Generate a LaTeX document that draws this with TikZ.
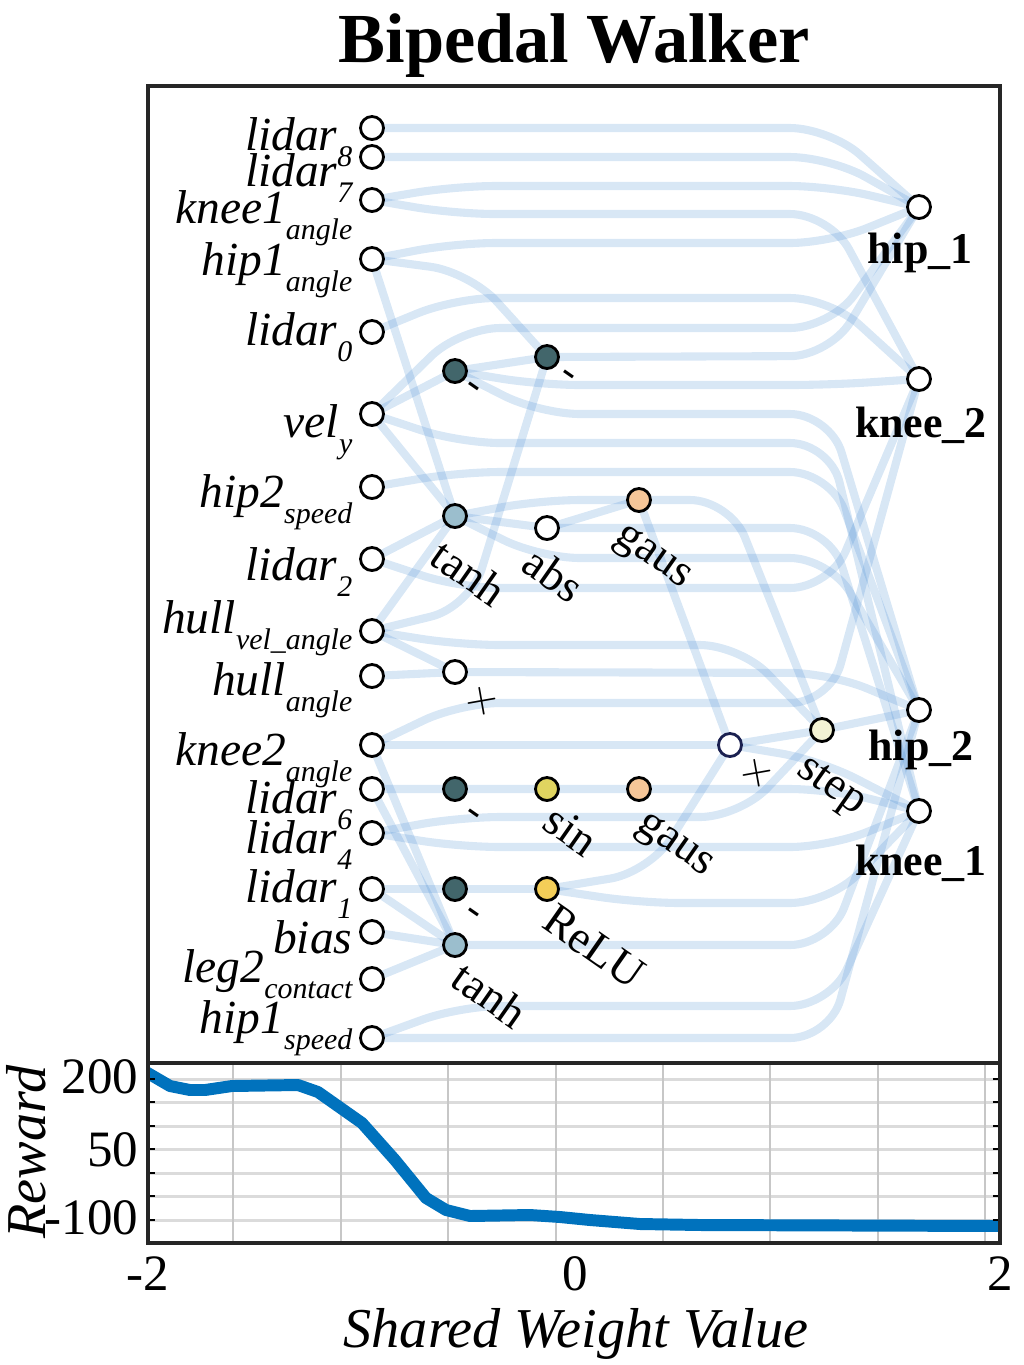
\documentclass[tikz,border=0pt]{standalone}
\usepackage{fontspec}
\setmainfont{Liberation Serif}
\usetikzlibrary{calc,backgrounds}

\definecolor{wireblue}{RGB}{70,140,210}
\definecolor{negteal}{RGB}{66,102,107}
\definecolor{tanhblue}{RGB}{155,190,205}
\definecolor{gausorange}{RGB}{246,198,152}
\definecolor{sinyellow}{RGB}{224,212,96}
\definecolor{reluyellow}{RGB}{244,206,88}
\definecolor{stepcream}{RGB}{243,243,212}
\definecolor{mulnavy}{RGB}{26,32,80}
\definecolor{plotblue}{RGB}{0,114,189}
\definecolor{framegray}{RGB}{38,38,38}

\tikzset{
  unit/.style={circle, draw=black, line width=0.8pt, fill=white, minimum size=0.23cm, inner sep=0pt},
  wire/.style={draw=wireblue, draw opacity=0.21, line width=2.3pt, rounded corners=0.4cm},
  inlab/.style={anchor=base east, inner sep=0pt, font=\fontsize{13.5}{16}\selectfont\itshape},
  outlab/.style={anchor=base, inner sep=0pt, font=\fontsize{12.5}{15}\selectfont\bfseries},
  fnlab/.style={anchor=north west, rotate=-35, inner sep=0pt, font=\fontsize{13}{15}\selectfont},
  oplab/.style={anchor=center, rotate=-35, inner sep=0pt, font=\fontsize{12}{14}\selectfont},
  frameline/.style={draw=framegray, line width=1.2pt},
  ticklab/.style={inner sep=0pt, font=\fontsize{14.5}{17}\selectfont},
}
\newcommand{\subtxt}[1]{\raisebox{-4.8pt}{\fontsize{8.5}{10}\selectfont #1}}

\begin{document}
\begin{tikzpicture}[x=0.01cm, y=-0.01cm]
\useasboundingbox (0,0) rectangle (1024,1365);

\node[anchor=base, inner sep=0pt, font=\fontsize{20}{24}\selectfont\bfseries] (title) at (574,62) {Bipedal Walker};

% inputs
\foreach \n/\y in {l8/128, l7/157, k1a/200, h1a/259, l0/332, vy/414, h2s/487, l2/559, hva/631, ha/676, k2a/745, l6/789, l4/833, l1/889, bias/932, lg2/979, h1s/1038}
  \node[unit] (\n) at (372,\y) {};
\foreach \n/\b/\w/\s in {l8/150/lidar/8, l7/186/lidar/7, k1a/223/knee1/angle, h1a/275/hip1/angle, l0/345/lidar/0, vy/437/vel/y, h2s/507/hip2/speed, l2/580/lidar/2, hva/633/hull/vel\_angle, ha/695/hull/angle, k2a/765/knee2/angle, l6/813/lidar/6, l4/853/lidar/4, l1/902/lidar/1, bias/953/bias/{}, lg2/982/leg2/contact, h1s/1033/hip1/speed}
  \node[inlab] (lab\n) at (353,\b) {\w\subtxt{\s}};

% hidden units
\node[unit, fill=negteal] (negA) at (455,371) {};
\node[unit, fill=negteal] (negB) at (547,357) {};
\node[unit, fill=tanhblue] (tanhA) at (455,516) {};
\node[unit] (absU) at (547,528) {};
\node[unit, fill=gausorange] (gausA) at (639,500) {};
\node[unit] (mulA) at (455,672) {};
\node[unit, draw=mulnavy] (mulB) at (730,745) {};
\node[unit, fill=stepcream] (stepU) at (822,730) {};
\node[unit, fill=negteal] (negC) at (455,789) {};
\node[unit, fill=sinyellow] (sinU) at (547,789) {};
\node[unit, fill=gausorange] (gausB) at (639,789) {};
\node[unit, fill=negteal] (negD) at (455,889) {};
\node[unit, fill=reluyellow] (relu) at (547,889) {};
\node[unit, fill=tanhblue] (tanhB) at (455,945) {};

\node[oplab] (labnegA) at (472,390) {-};
\node[oplab] (labnegB) at (567,378) {-};
\node[oplab] (labnegC) at (472,817) {-};
\node[oplab] (labnegD) at (472,916) {-};
\node[oplab] (labmulA) at (482,701) {$\times$};
\node[oplab] (labmulB) at (757,773) {$\times$};
\node[fnlab] (labtanhA) at (446,536) {tanh};
\node[fnlab] (lababs) at (538,543) {abs};
\node[fnlab] (labgausA) at (627,520) {gaus};
\node[fnlab] (labsin) at (558,802) {sin};
\node[fnlab] (labgausB) at (649,808) {gaus};
\node[fnlab] (labrelu) at (557,901) {ReLU};
\node[fnlab] (labstep) at (810,751) {step};
\node[fnlab] (labtanhB) at (467,958) {tanh};

% outputs
\node[unit] (hipA) at (919,207) {};
\node[unit] (kneeB) at (919,379) {};
\node[unit] (hipB) at (919,710) {};
\node[unit] (kneeA) at (919,811) {};
\node[outlab] (labhipA) at (920,263) {hip\_1};
\node[outlab] (labkneeB) at (921,437) {knee\_2};
\node[outlab] (labhipB) at (921,760) {hip\_2};
\node[outlab] (labkneeA) at (921,875) {knee\_1};

\begin{scope}[on background layer]
  % from inputs
  \draw[wire] (l8.center) -- (830,128) -- (hipA.center);
  \draw[wire] (l7.center) -- (830,157) -- (hipA.center);
  \draw[wire] (k1a.center) -- (455,186) -- (830,186) -- (hipA.center);
  \draw[wire] (k1a.center) -- (455,214) -- (830,214) -- (kneeB.center);
  \draw[wire] (h1a.center) -- (455,243) -- (830,243) -- (hipA.center);
  \draw[wire] (h1a.center) -- (470,272) -- (negB.center);
  \draw[wire] (h1a.center) -- (tanhA.center);
  \draw[wire] (l0.center) -- (455,298) -- (830,298) -- (kneeB.center);
  \draw[wire] (vy.center) -- (460,328) -- (830,328) -- (hipA.center);
  \draw[wire] (vy.center) -- (negA.center);
  \draw[wire] (vy.center) -- (tanhA.center);
  \draw[wire] (vy.center) -- (460,443) -- (830,443) -- (kneeA.center);
  \draw[wire] (h2s.center) -- (460,472) -- (830,472) -- (hipB.center);
  \draw[wire] (l2.center) -- (tanhA.center);
  \draw[wire] (l2.center) -- (460,588) -- (830,588) -- (kneeB.center);
  \draw[wire] (hva.center) -- (tanhA.center);
  \draw[wire] (hva.center) -- (470,607) -- (negB.center);
  \draw[wire] (hva.center) -- (460,645) -- (740,645) -- (stepU.center);
  \draw[wire] (hva.center) -- (mulA.center);
  \draw[wire] (ha.center) -- (mulA.center);
  \draw[wire] (k2a.center) -- (460,703) -- (830,703) -- (kneeB.center);
  \draw[wire] (k2a.center) -- (mulB.center);
  \draw[wire] (k2a.center) -- (tanhB.center);
  \draw[wire] (l6.center) -- (negC.center) -- (sinU.center) -- (gausB.center) -- (830,789) -- (kneeA.center);
  \draw[wire] (l6.center) -- (tanhB.center);
  \draw[wire] (l4.center) -- (460,817) -- (740,817) -- (stepU.center);
  \draw[wire] (l4.center) -- (460,847) -- (830,847) -- (kneeA.center);
  \draw[wire] (l1.center) -- (negD.center) -- (relu.center);
  \draw[wire] (l1.center) -- (tanhB.center);
  \draw[wire] (bias.center) -- (tanhB.center);
  \draw[wire] (lg2.center) -- (tanhB.center);
  \draw[wire] (h1s.center) -- (460,1006) -- (830,1006) -- (kneeA.center);
  \draw[wire] (h1s.center) -- (830,1038) -- (hipB.center);
  % between hidden units
  \draw[wire] (negA.center) -- (negB.center);
  \draw[wire] (negA.center) -- (540,385) -- (830,385) -- (kneeB.center);
  \draw[wire] (negA.center) -- (540,414) -- (830,414) -- (hipB.center);
  \draw[wire] (negB.center) -- (830,356) -- (hipA.center);
  \draw[wire] (tanhA.center) -- (540,500) -- (gausA.center);
  \draw[wire] (tanhA.center) -- (absU.center);
  \draw[wire] (tanhA.center) -- (540,558) -- (830,558) -- (hipB.center);
  \draw[wire] (absU.center) -- (gausA.center);
  \draw[wire] (absU.center) -- (830,528) -- (kneeA.center);
  \draw[wire] (gausA.center) -- (730,500) -- (stepU.center);
  \draw[wire] (gausA.center) -- (mulB.center);
  \draw[wire] (mulA.center) -- (830,673) -- (hipB.center);
  \draw[wire] (relu.center) -- (650,872) -- (mulB.center);
  \draw[wire] (relu.center) -- (640,903) -- (830,903) -- (kneeA.center);
  \draw[wire] (tanhB.center) -- (830,945) -- (hipB.center);
  \draw[wire] (mulB.center) -- (stepU.center);
  \draw[wire] (mulB.center) -- (820,760) -- (kneeA.center);
  \draw[wire] (stepU.center) -- (hipB.center);
\end{scope}

\draw[frameline] (148,86) rectangle (1000,1063);

% reward plot
\begin{scope}
  \clip (148,1063) rectangle (1000,1243);
  \foreach \y in {1079,1102,1126,1149,1173,1196,1220}
    \draw[black!14, line width=0.85pt] (148,\y) -- (1000,\y);
  \foreach \x in {233,341,448,556,663,770,878,985}
    \draw[black!22, line width=0.45pt] (\x,1063) -- (\x,1243);
  \draw[plotblue, line width=3.4pt, line join=round]
    (146,1072) -- (170,1086) -- (190,1090) -- (205,1090) -- (232,1086) -- (298,1085)
    -- (318,1092) -- (362,1123) -- (395,1160) -- (426,1198) -- (446,1210)
    -- (470,1216) -- (530,1215) -- (560,1217) -- (590,1220) -- (640,1224)
    -- (700,1225) -- (1002,1226);
\end{scope}
\foreach \y in {1079,1102,1126,1149,1173,1196,1220} {
  \draw[black, line width=0.8pt] (148,\y) -- (155,\y);
  \draw[black, line width=0.8pt] (993,\y) -- (1000,\y);
}
\draw[frameline] (148,1063) rectangle (1000,1243);

\node[ticklab, anchor=east] (y200) at (139,1077) {200};
\node[ticklab, anchor=east] (y50) at (139,1150) {50};
\node[ticklab, anchor=east] (y100) at (139,1218) {-100};
\node[ticklab, anchor=north] (xm2) at (148,1256) {-2};
\node[ticklab, anchor=north] (x0) at (575,1256) {0};
\node[ticklab, anchor=north] (x2) at (1000,1256) {2};
\node[anchor=base, inner sep=0pt, font=\fontsize{16}{19}\selectfont\itshape] (xlab) at (576,1347) {Shared Weight Value};
\node[rotate=90, inner sep=0pt, font=\fontsize{16}{19}\selectfont\itshape] (ylab) at (26,1152) {Reward};
\end{tikzpicture}
\end{document}
